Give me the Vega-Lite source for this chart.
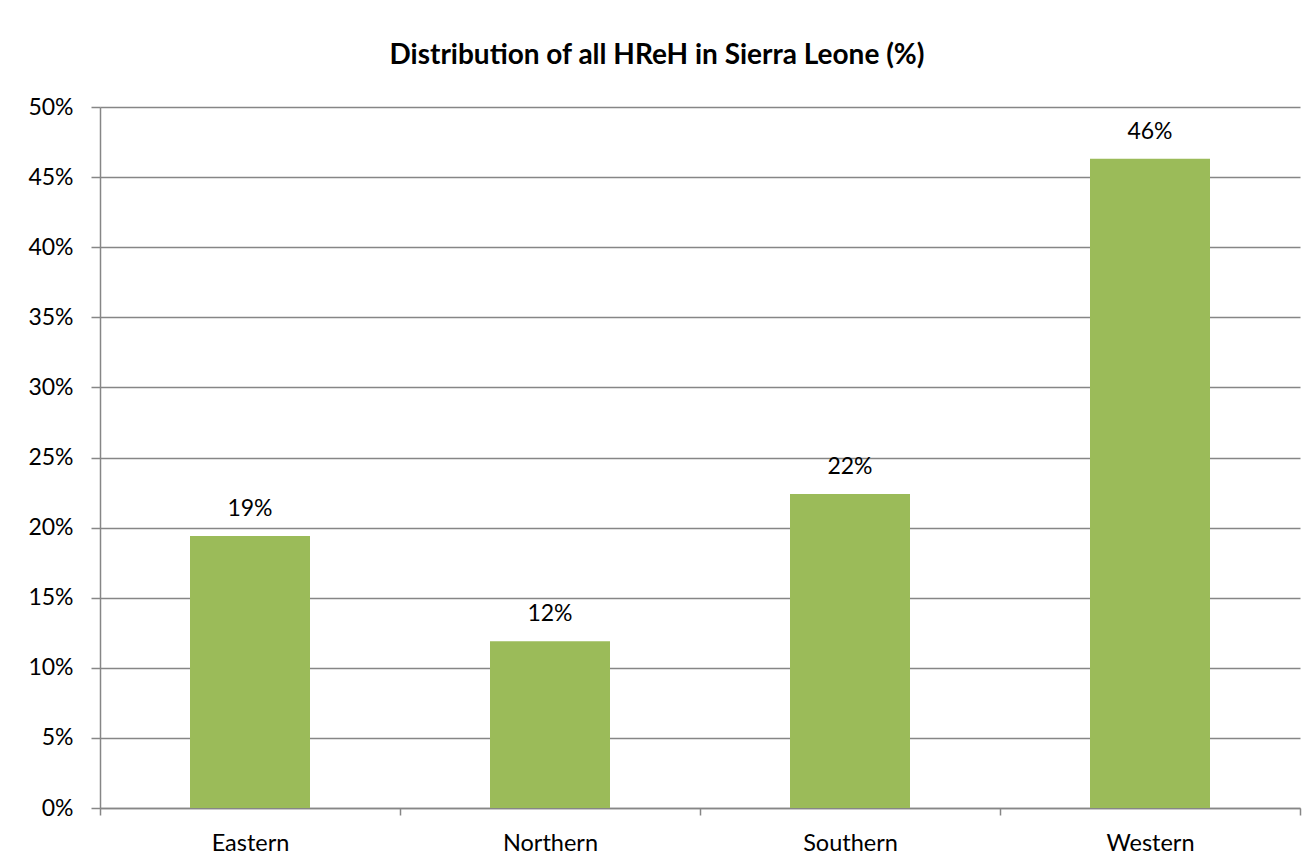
{
  "$schema": "https://vega.github.io/schema/vega-lite/v6.json",
  "width": 1200,
  "height": 701,
  "autosize": {"type": "none"},
  "padding": {"left": 100, "top": 107, "right": 14, "bottom": 58},
  "background": "white",
  "config": {
    "view": {"stroke": null},
    "font": "Lato"
  },
  "title": {
    "text": "Distribution of all HReH in Sierra Leone (%)",
    "font": "Lato",
    "fontSize": 28,
    "fontWeight": "bold",
    "color": "#000000",
    "anchor": "middle",
    "frame": "group",
    "dx": -43,
    "offset": 26
  },
  "data": {
    "values": [
      {"region": "Eastern", "share": 0.194},
      {"region": "Northern", "share": 0.119},
      {"region": "Southern", "share": 0.224},
      {"region": "Western", "share": 0.463}
    ]
  },
  "encoding": {
    "x": {
      "field": "region",
      "type": "nominal",
      "sort": null,
      "scale": {"paddingInner": 0, "paddingOuter": 0},
      "axis": {
        "title": null,
        "labelAngle": 0,
        "labelFont": "Lato",
        "labelFontSize": 23.5,
        "labelColor": "#000000",
        "labelPadding": 16,
        "tickBand": "extent",
        "tickSize": 7,
        "tickColor": "#868686",
        "tickWidth": 1.5,
        "domainColor": "#868686",
        "domainWidth": 1.5,
        "grid": false
      }
    },
    "y": {
      "field": "share",
      "type": "quantitative",
      "scale": {"domain": [0, 0.5], "nice": false},
      "axis": {
        "title": null,
        "format": ".0%",
        "values": [0, 0.05, 0.1, 0.15, 0.2, 0.25, 0.3, 0.35, 0.4, 0.45, 0.5],
        "labelFont": "Lato",
        "labelFontSize": 23,
        "labelColor": "#000000",
        "labelPadding": 18,
        "tickSize": 9,
        "tickColor": "#868686",
        "tickWidth": 1.5,
        "domainColor": "#868686",
        "domainWidth": 1.5,
        "grid": true,
        "gridColor": "#868686",
        "gridWidth": 1.5
      }
    }
  },
  "layer": [
    {
      "mark": {"type": "bar", "color": "#9BBB59", "width": {"band": 0.4}}
    },
    {
      "mark": {"type": "text", "dy": -20, "fontSize": 23, "font": "Lato", "color": "#000000", "baseline": "alphabetic"},
      "encoding": {
        "text": {"field": "share", "type": "quantitative", "format": ".0%"}
      }
    }
  ]
}
